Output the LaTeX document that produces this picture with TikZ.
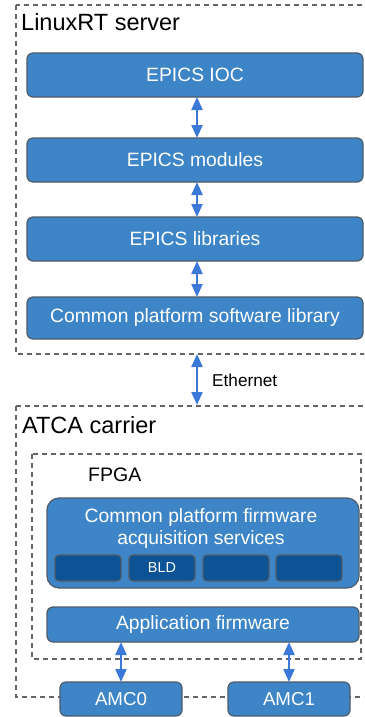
\documentclass[tikz,border=0pt]{standalone}
\usepackage{fontspec}
\setmainfont{Liberation Sans}
\usetikzlibrary{arrows.meta}
\definecolor{boxblue}{HTML}{3D85C6}
\definecolor{darkblue}{HTML}{0B5394}
\definecolor{arrowblue}{HTML}{3C78D8}
\definecolor{edgegray}{HTML}{4F5B66}
\definecolor{dashgray}{HTML}{666666}
\begin{document}
\begin{tikzpicture}[x=1pt,y=-1pt,
  blk/.style={draw=edgegray, line width=1.2pt, fill=boxblue, rounded corners=6pt,
    text=white, font=\fontsize{19.3}{22}\selectfont, inner sep=0pt, outer sep=0pt},
  slot/.style={draw=edgegray, line width=1.2pt, fill=darkblue, rounded corners=4pt,
    text=white, font=\fontsize{14.4}{16}\selectfont, inner sep=0pt, outer sep=0pt,
    minimum width=66pt, minimum height=26pt},
  frame/.style={draw=dashgray, line width=1.2pt, dash pattern=on 5pt off 4pt},
  arr/.style={draw=arrowblue, line width=2.2pt, {Triangle[width=11pt,length=13pt]}-{Triangle[width=11pt,length=13pt]}},
  title/.style={anchor=base west, inner sep=0pt, font=\fontsize{23.5}{26}\selectfont}
]
\useasboundingbox (0,0) rectangle (364,717);
\clip (0,0) rectangle (364,717);
\fill[white] (0,0) rectangle (364,717);

% frames
\draw[frame] (16,5) rectangle (380,354);
\draw[frame] (16,406) rectangle (380,697);
\draw[frame] (32,454) rectangle (361,659);

\node[title] (tlinux) at (21,31) {LinuxRT server};
\node[title] (tatca) at (22,433) {ATCA carrier};
\node[anchor=base west, inner sep=0pt, font=\fontsize{19.5}{22}\selectfont] (tfpga) at (88,481) {FPGA};

% server stack
\node[blk, minimum width=336pt, minimum height=44pt] (ioc) at (195,75) {EPICS IOC};
\node[blk, minimum width=336pt, minimum height=44pt] (mods) at (195,160) {EPICS modules};
\node[blk, minimum width=336pt, minimum height=44pt] (libs) at (195,239) {EPICS libraries};
\node[blk, minimum width=336pt, minimum height=42pt] (cpsw) at (195,318) {Common platform software library};

\draw[arr] ([xshift=2pt]ioc.south) -- ([xshift=2pt]mods.north);
\draw[arr] ([xshift=2pt]mods.south) -- ([xshift=2pt]libs.north);
\draw[arr] ([xshift=2pt]libs.south) -- ([xshift=2pt]cpsw.north);

% ethernet
\coordinate (eth1) at (197,354);
\coordinate (eth2) at (197,405);
\draw[arr] (eth1) -- (eth2);
\node[anchor=base west, inner sep=0pt, font=\fontsize{17.2}{20}\selectfont] (teth) at (212,386) {Ethernet};

% FPGA contents
\node[blk, rounded corners=12pt, minimum width=312pt, minimum height=90pt] (fw) at (203,543) {};
\node[anchor=base, inner sep=0pt, text=white, font=\fontsize{19.3}{22}\selectfont] (fwt1) at (201,522) {Common platform firmware};
\node[anchor=base, inner sep=0pt, text=white, font=\fontsize{19.3}{22}\selectfont] (fwt2) at (201,544) {acquisition services};
\node[slot] (s1) at (88,568) {};
\node[slot] (s2) at (162,568) {BLD};
\node[slot] (s3) at (236,568) {};
\node[slot] (s4) at (309,568) {};

\node[blk, minimum width=312pt, minimum height=35pt] (app) at (203,624.5) {Application firmware};

% AMCs
\node[blk, font=\fontsize{18.7}{21}\selectfont, minimum width=122pt, minimum height=34pt] (amc0) at (121,699) {AMC0};
\node[blk, font=\fontsize{18.7}{21}\selectfont, minimum width=122pt, minimum height=34pt] (amc1) at (289,699) {AMC1};

\draw[arr] (amc0.north |- app.south) -- (amc0.north);
\draw[arr] (amc1.north |- app.south) -- (amc1.north);
\end{tikzpicture}
\end{document}
